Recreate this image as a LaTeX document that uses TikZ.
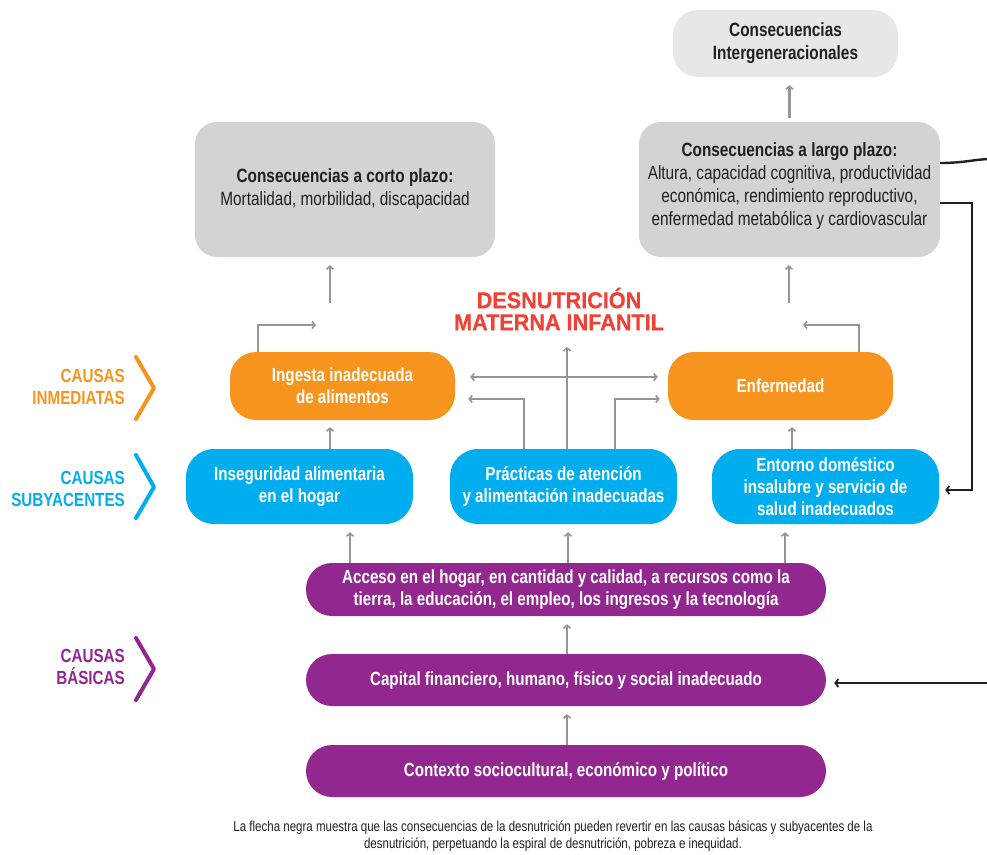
\documentclass[tikz,border=0pt]{standalone}
\usepackage{fontspec}
\setmainfont{Liberation Sans}[FakeStretch=0.8]
\newfontfamily\titlefont{Liberation Sans}[FakeStretch=0.94, BoldFeatures={FakeBold=0.6}]
\usetikzlibrary{arrows.meta,calc}
\definecolor{gbox}{HTML}{D1D3D4}
\definecolor{gboxl}{HTML}{E6E7E8}
\definecolor{orn}{HTML}{F7941D}
\definecolor{blu}{HTML}{00AEEF}
\definecolor{pur}{HTML}{92278F}
\definecolor{garr}{HTML}{939598}
\definecolor{blk}{HTML}{231F20}
\definecolor{tred}{HTML}{EF4136}
\begin{document}
\begin{tikzpicture}[x=1pt,y=-1pt,
  box/.style={rectangle, align=center, inner sep=0pt},
  gbx/.style={box, fill=gbox, rounded corners=22pt, text=blk, font=\fontsize{19.2}{23}\selectfont},
  obx/.style={box, fill=orn, rounded corners=26pt, text=white, font=\bfseries\fontsize{19}{22}\selectfont, minimum width=225pt, minimum height=68pt},
  bbx/.style={box, fill=blu, rounded corners=28pt, text=white, font=\bfseries\fontsize{19}{22}\selectfont, minimum width=227pt, minimum height=75pt},
  pbx/.style={box, fill=pur, rounded corners=26pt, text=white, font=\bfseries\fontsize{19}{22}\selectfont, minimum width=520pt, minimum height=52pt},
  ga/.style={draw=garr, line width=2.2pt, -{Straight Barb[length=3pt,width=7pt,line width=1.6pt]}},
  ga2/.style={draw=garr, line width=2.2pt, {Straight Barb[length=3pt,width=7pt,line width=1.6pt]}-{Straight Barb[length=3pt,width=7pt,line width=1.6pt]}},
  ba/.style={draw=blk, line width=2.4pt, -{Straight Barb[length=3pt,width=8pt,line width=1.8pt]}},
  bl/.style={draw=blk, line width=2.4pt},
  chev/.style={line width=4pt, line cap=round, line join=round},
  lab/.style={anchor=east, align=right, font=\bfseries\fontsize{19}{22}\selectfont, inner sep=0pt}
]
\useasboundingbox (0,0) rectangle (987,854);

% consequence boxes
\node[gbx, fill=gboxl, rounded corners=25pt, minimum width=225pt, minimum height=67pt] (inter) at (785.5,43.5)
  {\bfseries Consecuencias\\\bfseries Intergeneracionales};
\node[gbx, minimum width=300pt, minimum height=135pt] (corto) at (345,189.5)
  {\bfseries Consecuencias a corto plazo:\\Mortalidad, morbilidad, discapacidad};
\node[gbx, minimum width=301pt, minimum height=135pt] (largo) at (789.5,189.5) {};
\node[box, text=blk, font=\fontsize{19.2}{23}\selectfont] (largot) at (789.5,186.5)
  {\bfseries Consecuencias a largo plazo:\\Altura, capacidad cognitiva, productividad\\econ\'omica, rendimiento reproductivo,\\enfermedad metab\'olica y cardiovascular};

% title
\node[box, text=tred, font=\titlefont\bfseries\fontsize{23}{22}\selectfont] (title) at (559,309)
  {DESNUTRICI\'ON\\MATERNA INFANTIL};

% immediate causes
\node[obx] (ingesta) at (342.5,386) {Ingesta inadecuada\\de alimentos};
\node[obx] (enfer) at (780.5,386) {Enfermedad};

% underlying causes
\node[bbx] (inseg) at (299.5,486.5) {Inseguridad alimentaria\\en el hogar};
\node[bbx] (pract) at (563.5,486.5) {Pr\'acticas de atenci\'on\\y alimentaci\'on inadecuadas};
\node[bbx] (entorno) at (825.5,486.5) {Entorno dom\'estico\\insalubre y servicio de\\salud inadecuados};

% basic causes
\node[pbx, minimum height=53pt] (acceso) at (566,589.5) {Acceso en el hogar, en cantidad y calidad, a recursos como la\\tierra, la educaci\'on, el empleo, los ingresos y la tecnolog\'ia};
\node[pbx] (capital) at (566,680) {Capital financiero, humano, f\'isico y social inadecuado};
\node[pbx] (contexto) at (566,771) {Contexto sociocultural, econ\'omico y pol\'itico};

% left labels
\node[lab, text=orn] (l1) at (125,387) {CAUSAS\\INMEDIATAS};
\node[lab, text=blu] (l2) at (125,489) {CAUSAS\\SUBYACENTES};
\node[lab, text=pur] (l3) at (125,667) {CAUSAS\\B\'ASICAS};
\draw[chev, draw=orn] (136,357) -- (154,388) -- (136,419);
\draw[chev, draw=blu] (136,455) -- (154,487) -- (136,518);
\draw[chev, draw=pur] (136,638) -- (154,669) -- (136,700);

% caption
\node[box, text=blk, font=\fontsize{14.4}{17}\selectfont] (cap) at (553,836)
  {La flecha negra muestra que las consecuencias de la desnutrici\'on pueden revertir en las causas b\'asicas y subyacentes de la\\desnutrici\'on, perpetuando la espiral de desnutrici\'on, pobreza e inequidad.};

% gray arrows
\coordinate (c1) at (330,303);
\draw[ga, shorten >=8pt] (c1) -- (c1 |- corto.south);
\coordinate (c2) at (316,325);
\draw[ga] ([xshift=-84.5pt]ingesta.north) |- (c2);
\coordinate (c3) at (789,303);
\draw[ga, shorten >=8pt] (c3) -- (c3 |- largo.south);
\coordinate (c4) at (803,325);
\draw[ga] ([xshift=78.5pt]enfer.north) |- (c4);
\draw[ga, shorten <=4pt, shorten >=8pt] (largo.north) -- (largo.north |- inter.south);

\coordinate (c5) at (567,347);
\draw[ga] ([xshift=3.5pt]pract.north) -- (c5);
\draw[ga2, shorten <=15pt, shorten >=10pt] ([yshift=9pt]ingesta.east) -- ([yshift=9pt]enfer.west);
\draw[ga, shorten >=13pt] ([xshift=-39.5pt]pract.north) |- ([yshift=-13pt]ingesta.east);
\draw[ga, shorten >=8pt] ([xshift=51.5pt]pract.north) |- ([yshift=-13pt]enfer.west);

\draw[ga, shorten >=7pt] ([xshift=30.5pt]inseg.north) -- ([xshift=30.5pt]inseg.north |- ingesta.south);
\draw[ga, shorten >=7pt] ([xshift=-33.5pt]entorno.north) -- ([xshift=-33.5pt]entorno.north |- enfer.south);

\coordinate (a1) at (350,563);
\coordinate (a3) at (785,563);
\draw[ga, shorten >=8pt] (a1) -- (a1 |- inseg.south);
\draw[ga, shorten >=8pt] ([xshift=2pt]acceso.north) -- ([xshift=2pt]acceso.north |- pract.south);
\draw[ga, shorten >=8pt] (a3) -- (a3 |- entorno.south);
\draw[ga, shorten >=8pt] ([xshift=1pt]capital.north) -- ([xshift=1pt]capital.north |- acceso.south);
\draw[ga, shorten >=8pt] ([xshift=1pt]contexto.north) -- ([xshift=1pt]contexto.north |- capital.south);

% black feedback arrows
\coordinate (r1) at (992,159);
\draw[bl] ([yshift=26.5pt]largo.east) .. controls (965,163) and (975,159) .. (r1);
\coordinate (r2) at (972,203);
\draw[ba, shorten >=6pt] ([yshift=-13.5pt]largo.east) -- (r2) |- ([yshift=-3.5pt]entorno.east);
\coordinate (r3) at (992,683);
\draw[ba, shorten >=8pt] (r3) -- (r3 -| capital.east);
\end{tikzpicture}
\end{document}
